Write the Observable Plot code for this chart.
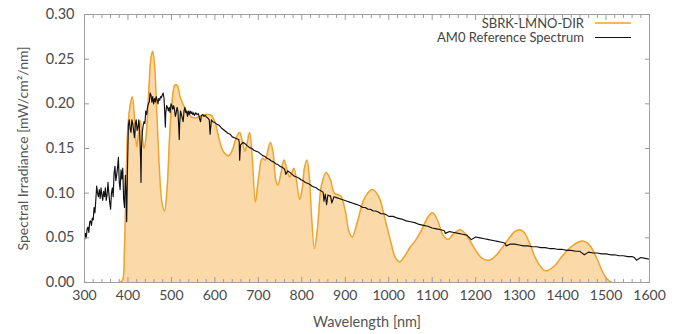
<!DOCTYPE html>
<html><head><meta charset="utf-8">
<script src="https://cdn.jsdelivr.net/npm/d3@7"></script>
<script src="https://cdn.jsdelivr.net/npm/@observablehq/plot@0.6"></script>
<style>
body{margin:0;background:#fff;font-family:Lato,"Open Sans",sans-serif}
#chart{position:relative;width:684px;height:334px}
</style>
</head><body><div id="chart"></div>
<script>
// SBRK-LMNO-DIR (smooth, oscillating) — wavelength [nm] / irradiance
const sbrkNm = [300,380,387,392,396,400,405,410,415,420,425,428,432,437,442,448,453,457,461,466,472,478,484,490,496,502,508,513,520,530,540,553,565,580,592,600,610,620,632,640,650,657,663,669,675,680,686,693,700,709,716,722,728,734,740,745,752,759,766,772,778,782,789,795,801,806,812,817,823,829,836,845,856,866,875,889,900,908,916,928,945,963,978,992,1005,1015,1025,1037,1050,1060,1075,1090,1101,1112,1125,1136,1150,1165,1180,1200,1215,1232,1250,1270,1290,1301,1310,1325,1340,1361,1380,1400,1420,1440,1451,1462,1478,1490,1502,1514,1600];
const sbrkVal = [0,0,0.002,0.04,0.12,0.175,0.198,0.208,0.185,0.152,0.170,0.181,0.168,0.150,0.165,0.215,0.252,0.259,0.245,0.195,0.130,0.090,0.080,0.105,0.165,0.205,0.221,0.221,0.208,0.196,0.188,0.184,0.186,0.188,0.187,0.180,0.160,0.146,0.142,0.148,0.163,0.168,0.158,0.147,0.158,0.168,0.140,0.090,0.115,0.139,0.137,0.148,0.157,0.145,0.115,0.109,0.122,0.137,0.126,0.118,0.124,0.128,0.110,0.093,0.105,0.128,0.137,0.120,0.070,0.038,0.060,0.108,0.123,0.115,0.100,0.097,0.080,0.058,0.051,0.068,0.095,0.104,0.095,0.070,0.045,0.028,0.023,0.030,0.040,0.046,0.058,0.073,0.078,0.070,0.053,0.048,0.055,0.059,0.052,0.036,0.027,0.025,0.032,0.045,0.057,0.059,0.057,0.043,0.025,0.013,0.018,0.030,0.040,0.046,0.046,0.042,0.028,0.014,0.004,0,0];

// AM0 Reference Spectrum — wavelength [nm] / irradiance
const am0Nm = [300,302,304,306,308,310,312,314,316,318,320,322,324,326,328,330,332,334,336,338,340,342,344,346,348,350,352,354,356,358,360,362,364,366,368,370,372,374,376,378,380,382,384,386,388,390,392,394,396,397,399,401,403,405,407,409,411,413,415,417,419,421,423,425,427,429,430,431,433,435,437,439,441,443,445,447,449,451,453,455,457,459,461,463,465,467,469,471,473,475,477,479,481,483,485,486,487,489,491,493,495,497,499,501,503,505,507,509,511,513,515,517,518,519,521,523,525,527,529,531,533,535,537,539,541,543,545,547,549,551,553,556,559,562,565,567,569,572,575,578,581,584,587,589,590,592,595,600,605,610,615,620,625,630,635,640,645,650,655,656,657,659,665,670,675,680,685,690,695,700,705,710,715,720,725,730,735,740,745,750,755,760,761,763,768,773,778,783,788,793,798,803,808,813,818,823,828,833,838,843,846,849,851,854,857,860,863,866,869,874,880,886,892,898,904,910,916,922,928,934,940,946,952,958,964,970,976,982,988,994,1000,1010,1020,1030,1040,1050,1060,1070,1080,1090,1100,1110,1120,1128,1130,1140,1150,1160,1170,1180,1182,1190,1200,1210,1220,1230,1240,1250,1260,1268,1270,1280,1290,1300,1310,1320,1330,1340,1350,1360,1370,1380,1390,1400,1410,1420,1430,1440,1442,1450,1460,1470,1480,1490,1500,1510,1520,1530,1540,1550,1560,1565,1570,1580,1590,1600];
const am0Val = [0.047,0.055,0.050,0.060,0.062,0.056,0.068,0.069,0.064,0.072,0.070,0.084,0.078,0.092,0.108,0.100,0.096,0.104,0.094,0.106,0.098,0.092,0.102,0.096,0.106,0.092,0.098,0.112,0.100,0.090,0.082,0.100,0.106,0.096,0.122,0.130,0.114,0.120,0.128,0.140,0.112,0.104,0.126,0.116,0.128,0.094,0.084,0.120,0.096,0.068,0.130,0.176,0.182,0.172,0.168,0.182,0.178,0.170,0.162,0.178,0.182,0.170,0.174,0.182,0.168,0.140,0.112,0.150,0.168,0.176,0.180,0.178,0.192,0.188,0.196,0.200,0.202,0.212,0.210,0.202,0.208,0.200,0.206,0.202,0.208,0.205,0.200,0.206,0.204,0.208,0.207,0.210,0.212,0.206,0.186,0.174,0.190,0.198,0.196,0.192,0.196,0.190,0.200,0.198,0.194,0.198,0.194,0.186,0.190,0.196,0.192,0.172,0.160,0.178,0.192,0.188,0.184,0.180,0.192,0.196,0.190,0.192,0.186,0.192,0.188,0.192,0.189,0.191,0.188,0.190,0.187,0.190,0.188,0.189,0.183,0.180,0.187,0.188,0.186,0.187,0.185,0.184,0.182,0.166,0.172,0.182,0.180,0.179,0.177,0.176,0.173,0.171,0.169,0.167,0.166,0.163,0.162,0.161,0.160,0.157,0.137,0.154,0.157,0.155,0.153,0.151,0.150,0.148,0.147,0.146,0.144,0.142,0.141,0.139,0.138,0.136,0.135,0.133,0.132,0.130,0.129,0.127,0.126,0.121,0.125,0.123,0.121,0.119,0.118,0.117,0.115,0.114,0.112,0.111,0.110,0.108,0.107,0.106,0.104,0.103,0.102,0.101,0.091,0.099,0.087,0.098,0.097,0.097,0.089,0.096,0.095,0.094,0.093,0.092,0.091,0.090,0.089,0.088,0.087,0.086,0.084,0.084,0.082,0.082,0.080,0.080,0.079,0.077,0.077,0.076,0.074,0.074,0.072,0.071,0.069,0.068,0.067,0.065,0.064,0.063,0.061,0.060,0.059,0.058,0.055,0.057,0.056,0.055,0.054,0.053,0.052,0.048,0.051,0.050,0.049,0.048,0.047,0.046,0.045,0.044,0.041,0.043,0.043,0.042,0.041,0.041,0.040,0.040,0.039,0.039,0.038,0.038,0.037,0.037,0.036,0.036,0.035,0.035,0.034,0.031,0.034,0.033,0.033,0.032,0.032,0.031,0.031,0.030,0.030,0.029,0.029,0.028,0.025,0.028,0.027,0.026,0.026];

const xTicks = [300,400,500,600,700,800,900,1000,1100,1200,1300,1400,1500,1600];
const xMinorTicks = d3.range(300, 1601, 20).filter(d => d % 100 !== 0);
const yTicks = [0, 0.05, 0.10, 0.15, 0.20, 0.25, 0.30];
const seriesNames = ["SBRK-LMNO-DIR", "AM0 Reference Spectrum"];
const seriesColors = ["#f2a12b", "#111111"];

const sbrk = sbrkNm.map((x, i) => ({x, y: sbrkVal[i]}));
const am0 = am0Nm.map((x, i) => ({x, y: am0Val[i]}));

const tickStroke = "#9a9a9a";
const plot = Plot.plot({
  width: 684, height: 334,
  marginLeft: 84, marginRight: 35, marginTop: 14, marginBottom: 52,
  x: {domain: [300, 1600]},
  y: {domain: [0, 0.30]},
  style: {fontFamily: "Lato, 'Open Sans', sans-serif", fontSize: "14px", color: "#444", background: "#fff"},
  marks: [
    Plot.areaY(sbrk, {x: "x", y: "y", curve: "catmull-rom", fill: "#fcd9a9", clip: true}),
    Plot.lineY(sbrk, {x: "x", y: "y", curve: "catmull-rom", stroke: seriesColors[0], strokeWidth: 1.5, clip: true}),
    Plot.lineY(am0, {x: "x", y: "y", stroke: seriesColors[1], strokeWidth: 1.15}),
    Plot.frame({stroke: "#a0a0a0"}),
    Plot.axisX(xTicks, {anchor: "bottom", tickSize: -5, tickFormat: () => "", stroke: tickStroke, label: null}),
    Plot.axisX(xTicks, {anchor: "top", tickSize: -5, tickFormat: () => "", stroke: tickStroke, label: null}),
    Plot.axisX(xMinorTicks, {anchor: "bottom", tickSize: -3, tickFormat: () => "", stroke: tickStroke, label: null}),
    Plot.axisX(xMinorTicks, {anchor: "top", tickSize: -3, tickFormat: () => "", stroke: tickStroke, label: null}),
    Plot.axisY(yTicks, {anchor: "left", tickSize: -5, tickFormat: () => "", stroke: tickStroke, label: null}),
    Plot.axisY(yTicks, {anchor: "right", tickSize: -5, tickFormat: () => "", stroke: tickStroke, label: null}),
    Plot.axisX(xTicks, {anchor: "bottom", tickSize: 0, tickPadding: 8, tickFormat: d => String(d), fill: "#4a4a4a", fontSize: 14, label: null}),
    Plot.axisY(yTicks, {anchor: "left", tickSize: 0, tickPadding: 10, tickFormat: d => d.toFixed(2), fill: "#4a4a4a", fontSize: 14.5, label: null}),
    Plot.text(["Wavelength [nm]"], {frameAnchor: "bottom", dy: 40, fontSize: 14.5, fill: "#555", textAnchor: "middle", lineAnchor: "middle"}),
    Plot.text(["Spectral Irradiance [mW/cm²/nm]"], {frameAnchor: "left", rotate: -90, dx: -61, fontSize: 14, fill: "#555", textAnchor: "middle", lineAnchor: "middle"})
  ]
});

// Legend (top-right, inside the frame)
const svg = d3.select(plot);
const leg = svg.append("g").attr("font-family", "Lato, 'Open Sans', sans-serif").attr("font-size", 13).attr("fill", "#444");
seriesNames.forEach((name, i) => {
  const y = 23 + i * 14.5;
  leg.append("text").attr("x", 584).attr("y", y).attr("dy", "0.35em").attr("text-anchor", "end").text(name);
  leg.append("line").attr("x1", 595).attr("x2", 631).attr("y1", y).attr("y2", y)
    .attr("stroke", seriesColors[i]).attr("stroke-width", i === 0 ? 1.5 : 1.2);
});

document.getElementById("chart").appendChild(plot);
</script>
</body></html>
